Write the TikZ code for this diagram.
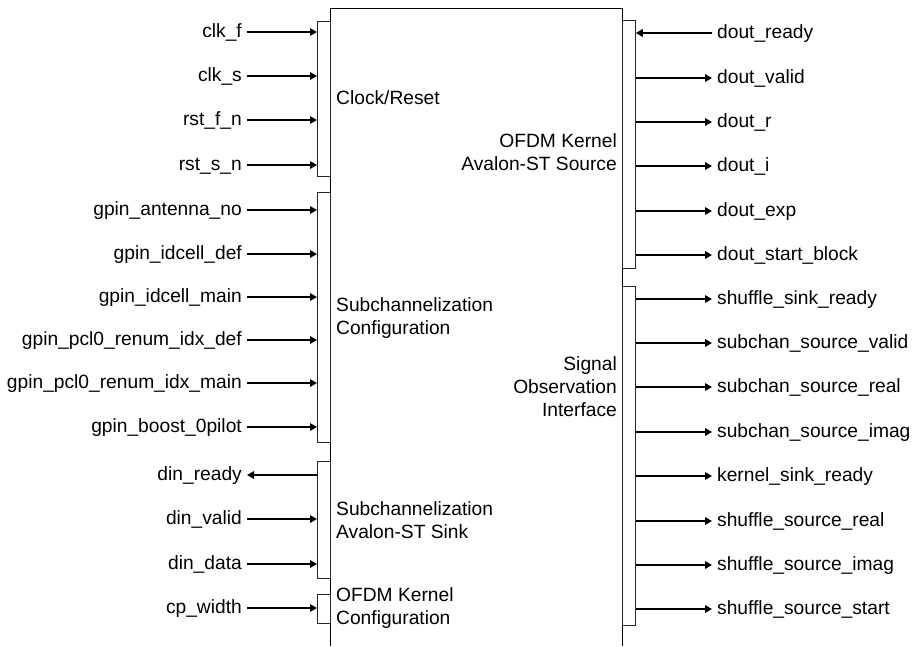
\documentclass[tikz,border=0pt]{standalone}
\usepackage{fontspec}
\setmainfont{Liberation Sans}
\usetikzlibrary{arrows.meta}
\begin{document}
\fontsize{19.2}{23}\selectfont
\begin{tikzpicture}[x=1pt,y=-1pt,
  lab/.style={font=\fontsize{19.2}{23}\selectfont, inner ysep=0pt, inner xsep=5pt},
  blab/.style={font=\fontsize{19.2}{23}\selectfont, inner sep=0pt},
  stripbox/.style={draw=black!85, line width=0.8pt, fill=white, inner sep=0pt, minimum width=13pt, anchor=north west},
  sig/.style={line width=1.8pt, -{Triangle[length=7pt,width=7.5pt]}},
  sigback/.style={line width=1.8pt, {Triangle[length=7pt,width=7.5pt]}-},
]
\useasboundingbox (0,0) rectangle (916,646);
% main block (open at the bottom)
\draw[line width=0.8pt] (330,646) -- (330,8) -- (622,8) -- (622,646);

% left strips
\node[stripbox, minimum height=155pt] (sL1) at (317,21) {};
\node[stripbox, minimum height=250pt] (sL2) at (317,192) {};
\node[stripbox, minimum height=117pt] (sL3) at (317,461) {};
\node[stripbox, minimum height=29pt] (sL4) at (317,594) {};
% right strips
\node[stripbox, minimum height=248pt] (sR1) at (622,20) {};
\node[stripbox, minimum height=339pt] (sR2) at (622,286) {};

% block labels
\node[blab, anchor=west, align=left] (tL1) at (336,98) {Clock/Reset};
\node[blab, anchor=west, align=left] (tL2) at (336,318) {Subchannelization\\Configuration};
\node[blab, anchor=west, align=left] (tL3) at (336,520) {Subchannelization\\Avalon-ST Sink};
\node[blab, anchor=west, align=left] (tL4) at (336,608) {OFDM Kernel\\Configuration};
\node[blab, anchor=east, align=right] (tR1) at (617,152) {OFDM Kernel\\Avalon-ST Source};
\node[blab, anchor=east, align=right] (tR2) at (617,387) {Signal\\Observation\\Interface};

% left inputs
\foreach \n/\t/\y/\s in {a/clk\_f/32/sL1, b/clk\_s/76/sL1, c/rst\_f\_n/120/sL1, d/rst\_s\_n/165/sL1,
  e/gpin\_antenna\_no/210/sL2, f/gpin\_idcell\_def/254/sL2, g/gpin\_idcell\_main/297/sL2,
  h/gpin\_pcl0\_renum\_idx\_def/340/sL2, i/gpin\_pcl0\_renum\_idx\_main/383/sL2, j/gpin\_boost\_0pilot/427/sL2,
  l/din\_valid/519/sL3, m/din\_data/564/sL3, n/cp\_width/608/sL4}{
  \node[lab, anchor=mid east] (in\n) at (247,\y) {\t};
  \draw[sig] (in\n.mid east) -- (in\n.mid east -| \s.west);
}
\node[lab, anchor=mid east] (ink) at (247,475) {din\_ready};
\draw[sigback] (ink.mid east) -- (ink.mid east -| sL3.west);

% right outputs
\foreach \n/\t/\y/\s in {b/dout\_valid/78/sR1, c/dout\_r/122/sR1, d/dout\_i/166/sR1, e/dout\_exp/211/sR1,
  f/dout\_start\_block/255/sR1,
  g/shuffle\_sink\_ready/299/sR2, h/subchan\_source\_valid/343/sR2, i/subchan\_source\_real/387/sR2,
  j/subchan\_source\_imag/432/sR2, k/kernel\_sink\_ready/476/sR2, l/shuffle\_source\_real/521/sR2,
  m/shuffle\_source\_imag/565/sR2, n/shuffle\_source\_start/609/sR2}{
  \node[lab, anchor=mid west] (out\n) at (712,\y) {\t};
  \draw[sig] (out\n.mid west -| \s.east) -- (out\n.mid west);
}
\node[lab, anchor=mid west] (outa) at (712,33) {dout\_ready};
\draw[sig] (outa.mid west) -- (outa.mid west -| sR1.east);
\end{tikzpicture}
\end{document}
